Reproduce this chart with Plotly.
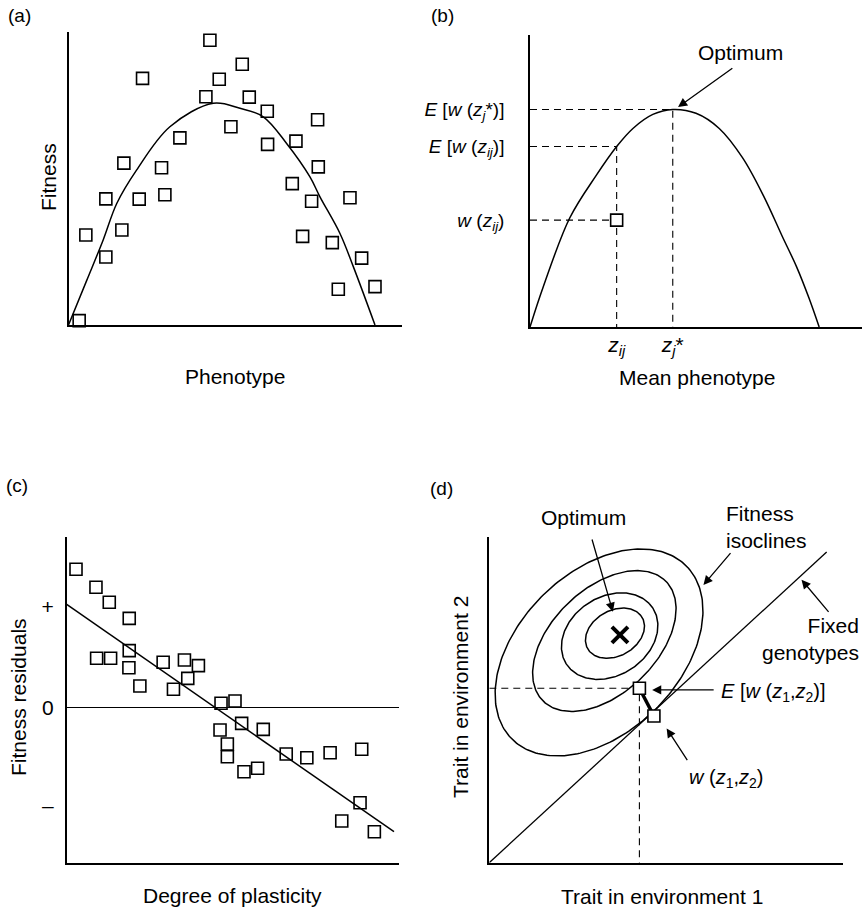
import numpy as np
import plotly.graph_objects as go

W, H = 862, 909
FONT = "Liberation Sans, Arial, sans-serif"

# ---------------- Panel (a): fitness vs phenotype ----------------
a_curve_x = [0, 5.5, 10.4, 14.5, 20.4, 30.4, 43.4, 51.4, 58.4, 65.4, 72.4, 75.4, 81.4, 85.4, 91.9]
a_curve_y = [0, 15.3, 29.0, 41.5, 52.8, 67.6, 75.6, 73.9, 71.0, 61.9, 50.5, 43.7, 31.2, 19.9, 0]
a_pts_x = [3.2, 5.2, 11.2, 11.2, 16.0, 16.6, 21.2, 22.2, 27.9, 28.9, 33.4, 41.2, 42.4, 45.2, 48.7,
           52.1, 54.2, 59.6, 59.7, 67.1, 68.2, 70.2, 72.9, 74.7, 74.9, 79.1, 80.9, 84.4, 87.9, 91.9]
a_pts_y = [1.5, 30.7, 43.0, 23.2, 32.4, 55.2, 42.9, 84.1, 53.6, 44.4, 63.8, 77.8, 97.1, 83.8, 67.6,
           88.9, 77.7, 72.9, 61.6, 48.2, 62.7, 30.2, 42.2, 70.0, 53.9, 28.1, 12.2, 43.4, 22.8, 13.1]

# ---------------- Panel (b): mean phenotype ----------------
b_curve_x = [0, 4, 12, 20, 26.1, 31, 37, 43, 50, 57, 64, 70.3, 76, 80.3, 84, 87.1]
b_curve_y = [0, 13.8, 37.4, 52, 61.8, 68, 72.8, 74.5, 73.2, 68, 58, 45, 31, 20.6, 10, 0]
z_ij = 26.1
z_star = 43.0
E_w_star = 74.5
E_w_ij = 61.8
w_ij = 36.6

# ---------------- Panel (c): residuals vs plasticity ----------------
c_pts_x = [2.8, 8.8, 12.8, 18.8, 18.8, 9.0, 13.2, 18.7, 22.0, 29.0, 35.4, 39.6, 36.4, 32.1, 46.4,
           50.6, 52.6, 46.1, 59.1, 48.3, 48.3, 53.3, 57.4, 66.0, 72.2, 79.2, 88.7, 88.2, 82.7, 92.5]
c_pts_y = [8.49, 7.39, 6.47, 5.48, 3.50, 3.03, 3.03, 2.45, 1.33, 2.79, 2.93, 2.58, 1.80, 1.13, 0.27,
           0.41, -0.96, -1.37, -1.33, -2.23, -3.01, -3.93, -3.72, -2.84, -3.07, -2.76, -2.55, -5.83, -6.95, -7.61]
c_fit_x = [0, 98.4]
c_fit_y = [6.34, -7.61]
c_tick_vals = [6.2, 0, -6.0]
c_tick_text = ["+", "0", "–"]

# ---------------- Panel (d): trait space ----------------
ell_cx = [35.5, 34.0, 32.5, 31.0]
ell_cy = [70.4, 69.5, 68.0, 64.5]
ell_a = [9.1, 15.0, 25.3, 36.3]
ell_b = [6.8, 11.7, 15.4, 23.5]
ell_ang = [37, 42, 49, 50.5]
opt_x, opt_y = 36.9, 69.9
diag_x = [0, 95.3]
diag_y = [0, 95.3]
Ez_x, Ez_y = 42.4, 53.5
wz_x, wz_y = 46.5, 45.0

fig = go.Figure()

line_k = dict(color="black", width=1.5)
sq_open = dict(symbol="square-open", size=12, color="black", line=dict(width=1.6, color="black"))
dash = dict(color="black", width=1.1, dash="7px,5px")

# (a)
fig.add_trace(go.Scatter(x=a_curve_x, y=a_curve_y, mode="lines",
                         line=dict(color="black", width=1.5, shape="spline", smoothing=1.0),
                         xaxis="x", yaxis="y", cliponaxis=False))
fig.add_trace(go.Scatter(x=a_pts_x, y=a_pts_y, mode="markers", marker=sq_open,
                         xaxis="x", yaxis="y", cliponaxis=False))

# (b)
fig.add_trace(go.Scatter(x=[0, z_star, z_star], y=[E_w_star, E_w_star, 0], mode="lines", line=dash, xaxis="x2", yaxis="y2"))
fig.add_trace(go.Scatter(x=[0, z_ij, z_ij], y=[E_w_ij, E_w_ij, 0], mode="lines", line=dash, xaxis="x2", yaxis="y2"))
fig.add_trace(go.Scatter(x=[0, z_ij], y=[w_ij, w_ij], mode="lines", line=dash, xaxis="x2", yaxis="y2"))
fig.add_trace(go.Scatter(x=b_curve_x, y=b_curve_y, mode="lines",
                         line=dict(color="black", width=1.5, shape="spline", smoothing=1.0),
                         xaxis="x2", yaxis="y2", cliponaxis=False))
fig.add_trace(go.Scatter(x=[z_ij], y=[w_ij], mode="markers",
                         marker=dict(symbol="square", size=12, color="white", line=dict(width=1.6, color="black")),
                         xaxis="x2", yaxis="y2"))

# (c)
fig.add_trace(go.Scatter(x=c_fit_x, y=c_fit_y, mode="lines", line=line_k, xaxis="x3", yaxis="y3", cliponaxis=False))
fig.add_trace(go.Scatter(x=c_pts_x, y=c_pts_y, mode="markers", marker=sq_open,
                         xaxis="x3", yaxis="y3", cliponaxis=False))

# (d)
t = np.linspace(0, 2 * np.pi, 240)
for cx, cy, a, b, ang in zip(ell_cx, ell_cy, ell_a, ell_b, ell_ang):
    th = np.deg2rad(ang)
    ex = cx + a * np.cos(t) * np.cos(th) - b * np.sin(t) * np.sin(th)
    ey = cy + a * np.cos(t) * np.sin(th) + b * np.sin(t) * np.cos(th)
    fig.add_trace(go.Scatter(x=ex, y=ey, mode="lines", line=line_k, xaxis="x4", yaxis="y4", cliponaxis=False))
fig.add_trace(go.Scatter(x=diag_x, y=diag_y, mode="lines", line=dict(color="black", width=1.3),
                         xaxis="x4", yaxis="y4", cliponaxis=False))
fig.add_trace(go.Scatter(x=[0, Ez_x, Ez_x], y=[Ez_y, Ez_y, 0], mode="lines", line=dash, xaxis="x4", yaxis="y4"))
fig.add_trace(go.Scatter(x=[Ez_x, wz_x], y=[Ez_y, wz_y], mode="lines", line=dict(color="black", width=3.5),
                         xaxis="x4", yaxis="y4"))
fig.add_trace(go.Scatter(x=[Ez_x, wz_x], y=[Ez_y, wz_y], mode="markers",
                         marker=dict(symbol="square", size=12, color="white", line=dict(width=1.6, color="black")),
                         xaxis="x4", yaxis="y4", cliponaxis=False))
fig.add_trace(go.Scatter(x=[opt_x], y=[opt_y], mode="markers",
                         marker=dict(symbol="x-thin", size=16, line=dict(width=4, color="black")),
                         xaxis="x4", yaxis="y4"))


def dom_x(p0, p1):
    return [p0 / W, min(p1 / W, 1.0)]


def dom_y(ptop, pbot):
    return [1 - pbot / H, 1 - ptop / H]


base = dict(showline=True, linecolor="black", linewidth=1.5, showgrid=False, zeroline=False,
            ticks="", showticklabels=False, fixedrange=True)
tickfont = dict(family=FONT, size=21, color="black")

fig.update_layout(
    width=W, height=H, margin=dict(l=0, r=0, t=0, b=0),
    paper_bgcolor="white", plot_bgcolor="white", showlegend=False, hovermode=False,
    xaxis=dict(base, domain=dom_x(68.5, 402), range=[0, 100], anchor="y"),
    yaxis=dict(base, domain=dom_y(31.7, 325), range=[0, 100], anchor="x"),
    xaxis2=dict(base, domain=dom_x(530, 862), range=[0, 100], anchor="y2",
                showticklabels=True, tickvals=[z_ij, z_star],
                ticktext=["<i>z<sub>ij</sub></i>", "<i>z<sub>j</sub></i>*"], tickfont=tickfont,
                ticklabelstandoff=-2),
    yaxis2=dict(base, domain=dom_y(35, 327), range=[0, 100], anchor="x2",
                showticklabels=True, tickvals=[E_w_star, E_w_ij, w_ij],
                ticktext=["<i>E</i> [<i>w</i> (<i>z<sub>j</sub></i>*)]", "<i>E</i> [<i>w</i> (<i>z<sub>ij</sub></i>)]",
                          "<i>w</i> (<i>z<sub>ij</sub></i>)"],
                tickfont=dict(family=FONT, size=19, color="black"), ticklabelstandoff=20),
    xaxis3=dict(base, domain=dom_x(66.7, 399.3), range=[0, 100], anchor="y3"),
    yaxis3=dict(base, domain=dom_y(536.7, 862.7), range=[-9.51, 10.49], anchor="x3",
                zeroline=True, zerolinecolor="black", zerolinewidth=1.3,
                showticklabels=True, tickvals=c_tick_vals, ticktext=c_tick_text,
                tickfont=tickfont, ticklabelstandoff=7),
    xaxis4=dict(base, domain=dom_x(489.3, 843.3), range=[0, 100], anchor="y4"),
    yaxis4=dict(base, domain=dom_y(536.7, 862.7), range=[0, 100], anchor="x4"),
)


def txt(s, px, py, size=21, **kw):
    d = dict(text=s, x=px / W, y=1 - py / H, xref="paper", yref="paper", showarrow=False,
             xanchor="center", yanchor="middle",
             font=dict(family=FONT, size=size, color="black"))
    d.update(kw)
    return d


def arrow(ax_id, tail, head):
    return dict(text="", x=head[0], y=head[1], ax=tail[0], ay=tail[1],
                xref="x" + ax_id, yref="y" + ax_id, axref="x" + ax_id, ayref="y" + ax_id,
                showarrow=True, arrowhead=2, arrowsize=1.4, arrowwidth=1.3, arrowcolor="black",
                standoff=0, startstandoff=0)


ann = [
    txt("(a)", 19, 16, size=19),
    txt("(b)", 442, 16, size=19),
    txt("(c)", 17, 485, size=19),
    txt("(d)", 441, 488, size=19),
    txt("Fitness", 48, 177, textangle=-90),
    txt("Phenotype", 235, 376),
    txt("Mean phenotype", 697, 378),
    txt("Optimum", 740, 53),
    txt("Fitness residuals", 18, 697, textangle=-90),
    txt("Degree of plasticity", 232, 895),
    txt("Trait in environment 2", 460, 697, textangle=-90),
    txt("Trait in environment 1", 662, 896),
    txt("Optimum", 583, 517),
    txt("Fitness<br>isoclines", 724, 527, xanchor="left", align="left"),
    txt("Fixed<br>genotypes", 861, 639, xanchor="right", align="right"),
    txt("<i>E</i> [<i>w</i> (<i>z</i><sub>1</sub>,<i>z</i><sub>2</sub>)]", 719, 692, size=20, xanchor="left"),
    txt("<i>w</i> (<i>z</i><sub>1</sub>,<i>z</i><sub>2</sub>)", 687, 778, size=20, xanchor="left"),
    arrow("2", (61.4, 89.0), (44.6, 75.3)),
    arrow("4", (28.9, 99.6), (34.9, 77.0)),
    arrow("4", (68.5, 95.4), (60.5, 85.2)),
    arrow("4", (96.2, 76.5), (88.2, 86.8)),
    arrow("4", (63.8, 53.0), (46.0, 53.0)),
    arrow("4", (56.2, 31.0), (50.1, 41.2)),
]
fig.update_layout(annotations=ann)

fig.write_html("out.html", config={"displayModeBar": False},
               post_script="document.body.style.margin='0px';")
